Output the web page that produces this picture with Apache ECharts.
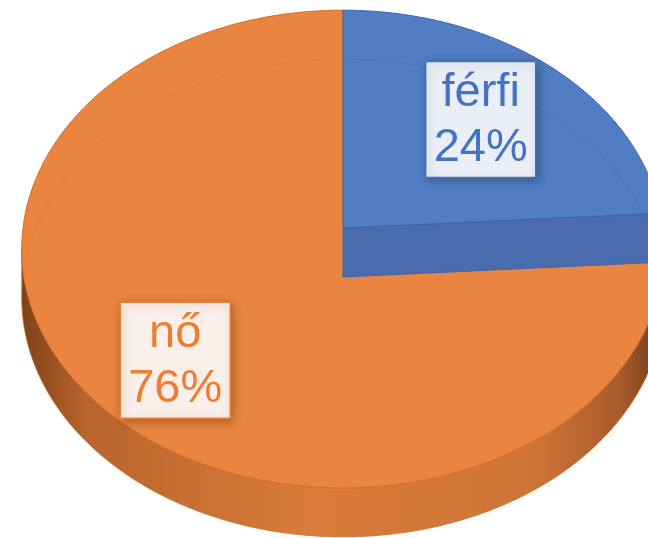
<!DOCTYPE html>
<html>
<head>
<meta charset="utf-8">
<script src="https://cdn.jsdelivr.net/npm/echarts@6/dist/echarts.min.js"></script>
<style>
  html, body { margin: 0; padding: 0; background: #fff; }
  #main { width: 648px; height: 538px; }
</style>
</head>
<body>
<div id="main"></div>
<script>
// data
var categories = ['férfi', 'nő'];
var values = [24, 76];

// look
var topColors = ['#507dc4', '#ea8541'];
var edgeColors = ['#3d66ad', '#d46c2a'];
var cutColors = ['#4b6baf', '#c8682c'];
var textColors = ['#4472c4', '#ed7d31'];
var boxColors = ['#e9eef7', '#fbefe9'];
var labelRadius = [0.655, 0.73];

// tilted disc (perspective): apex, half axes, perspective factor, thickness
var AX = 343, AY = 228, RA = 320, RB = 237, K = 0.088, DEPTH = 49;

var total = values.reduce(function (a, b) { return a + b; }, 0);

function proj(r, phi, dz) {
  var u = Math.sin(phi), v = Math.cos(phi);
  var w = 1 + K * r * v;
  return [AX + RA * r * u / w, AY - RB * r * v / w + (dz || 0)];
}

function arcPts(a0, a1, dz) {
  var pts = [];
  var n = Math.max(2, Math.ceil(Math.abs(a1 - a0) / (Math.PI / 180)));
  for (var j = 0; j <= n; j++) {
    pts.push(proj(1, a0 + (a1 - a0) * j / n, dz));
  }
  return pts;
}

// silhouette of the front wall
var frontStart = Math.acos(-K);
var frontEnd = 2 * Math.PI - frontStart;

function renderSlice(params, api) {
  var i = params.dataIndex;
  var before = 0;
  for (var j = 0; j < i; j++) before += values[j];
  var start = before / total * 2 * Math.PI;
  var end = start + api.value(0) / total * 2 * Math.PI;
  var zb = i === 0 ? 20 : 0;
  var children = [];

  // outer wall
  var w0 = Math.max(start, frontStart), w1 = Math.min(end, frontEnd);
  if (w1 > w0) {
    var topArc = arcPts(w0, w1, 0);
    var botArc = arcPts(w1, w0, DEPTH);
    children.push({
      type: 'polygon', z2: zb,
      shape: { points: topArc.concat(botArc) },
      style: {
        fill: {
          type: 'linear', global: true, x: 22, y: 0, x2: 664, y2: 0,
          colorStops: [
            { offset: 0, color: '#7e4219' },
            { offset: 0.1, color: '#b9652d' },
            { offset: 0.45, color: '#d97b3b' },
            { offset: 0.8, color: '#cf7438' },
            { offset: 0.93, color: '#a95c2c' },
            { offset: 1, color: '#6e3a18' }
          ]
        },
        stroke: edgeColors[i], lineWidth: 0.8
      }
    });
  }

  // radial cut face at the end edge (faces the viewer for 0..180deg)
  if (end > 0 && end < Math.PI) {
    var p0 = proj(0, 0, 0), p1 = proj(1, end, 0);
    children.push({
      type: 'polygon', z2: zb + 1,
      shape: { points: [p0, p1, [p1[0], p1[1] + DEPTH], [p0[0], p0[1] + DEPTH]] },
      style: { fill: cutColors[i], stroke: edgeColors[i], lineWidth: 1 }
    });
  }

  // top face
  children.push({
    type: 'polygon', z2: zb + 2,
    shape: { points: [proj(0, 0, 0)].concat(arcPts(start, end, 0)) },
    style: { fill: topColors[i], stroke: edgeColors[i], lineWidth: 1 }
  });

  // faint back rim of the base seen through the top
  var b0 = Math.max(start, 0), b1 = Math.min(end, frontStart);
  var backs = [];
  if (b1 > b0) backs.push([b0, b1]);
  var c0 = Math.max(start, frontEnd), c1 = Math.min(end, 2 * Math.PI);
  if (c1 > c0) backs.push([c0, c1]);
  backs.forEach(function (b) {
    children.push({
      type: 'polyline', z2: zb + 3,
      shape: { points: arcPts(b[0], b[1], DEPTH) },
      style: { fill: null, stroke: edgeColors[i], lineWidth: 1, opacity: 0.3 }
    });
  });

  // label box
  var mid = (start + end) / 2;
  var c = proj(labelRadius[i], mid, 0);
  var bw = 110, bh = 116;
  children.push({
    type: 'rect', z2: 50,
    shape: { x: c[0] - bw / 2, y: c[1] - bh / 2, width: bw, height: bh },
    style: {
      fill: boxColors[i], stroke: textColors[i], lineWidth: 1.5,
      shadowBlur: 10, shadowColor: 'rgba(0,0,0,0.28)', shadowOffsetX: 2, shadowOffsetY: 3
    }
  });
  children.push({
    type: 'text', z2: 51,
    x: c[0], y: c[1] + 1,
    style: {
      text: categories[i] + '\n' + Math.round(api.value(0) / total * 100) + '%',
      fill: textColors[i],
      font: '47px "Liberation Sans", Arial, sans-serif',
      lineHeight: 55,
      align: 'center', verticalAlign: 'middle'
    }
  });

  return { type: 'group', children: children };
}

var chart = echarts.init(document.getElementById('main'));
chart.setOption({
  animation: false,
  series: [{
    type: 'custom',
    coordinateSystem: 'none',
    renderItem: renderSlice,
    data: values.map(function (v) { return [v]; })
  }]
});
</script>
</body>
</html>
